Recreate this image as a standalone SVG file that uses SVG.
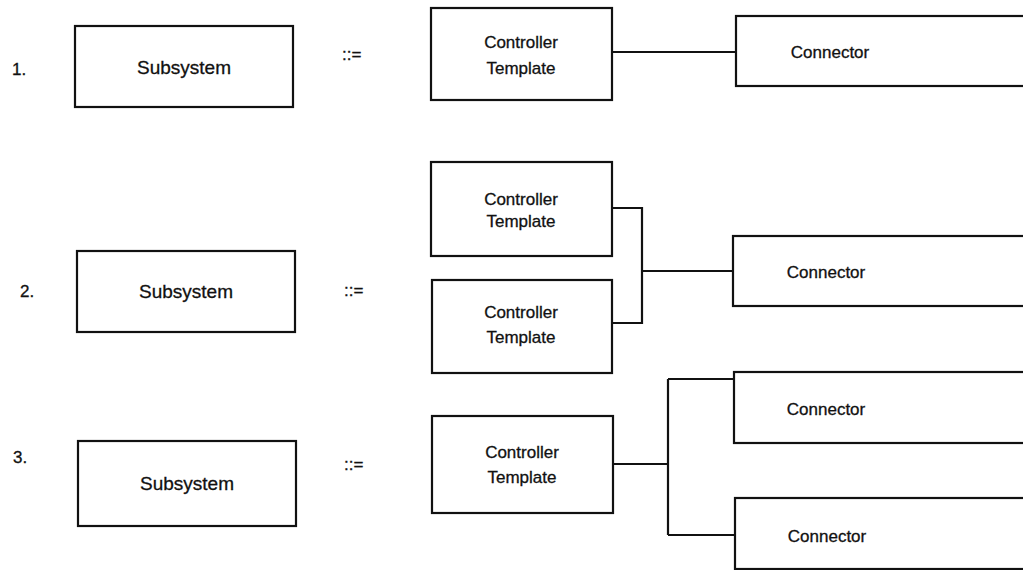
<svg xmlns="http://www.w3.org/2000/svg" width="1023" height="570" viewBox="0 0 1023 570">
  <style>
    .box { fill: #ffffff; stroke: #111111; stroke-width: 2.2; }
    .wire { fill: none; stroke: #111111; stroke-width: 2.2; }
    text { font-family: "Liberation Sans", Arial, sans-serif; fill: #111111; stroke: #111111; stroke-width: 0.3; }
    .sub { font-size: 19px; text-anchor: middle; }
    .lbl { font-size: 17px; text-anchor: middle; }
    .num { font-size: 17px; }
    .def { font-size: 17px; }
  </style>
  <rect width="1023" height="570" fill="#ffffff"/>

  <!-- rule numbers and definition symbols -->
  <g id="rule-marks">
    <text class="num" x="12" y="75">1.</text>
    <text class="num" x="20" y="297">2.</text>
    <text class="num" x="13" y="463">3.</text>
    <text class="def" x="342" y="60">::=</text>
    <text class="def" x="344" y="296" font-size="15">::=</text>
    <text class="def" x="344" y="470">::=</text>
  </g>

  <!-- connectors -->
  <g id="connectors">
    <path class="wire" d="M612 52 H736"/>
    <path class="wire" d="M612 208 H642 V323 H612 M642 271 H733"/>
    <path class="wire" d="M613 464 H668 M668 379 V535 M668 379 H734 M668 535 H735"/>
  </g>

  <!-- rule 1 -->
  <g id="subsystem-1">
    <rect class="box" x="75" y="26" width="218" height="81"/>
    <text class="sub" x="184" y="74">Subsystem</text>
  </g>
  <g id="controller-template-1">
    <rect class="box" x="431" y="8" width="181" height="92"/>
    <text class="lbl" x="521" y="48">Controller</text>
    <text class="lbl" x="521" y="74">Template</text>
  </g>
  <g id="connector-1">
    <rect class="box" x="736" y="16" width="300" height="70"/>
    <text class="lbl" x="830" y="58">Connector</text>
  </g>

  <!-- rule 2 -->
  <g id="subsystem-2">
    <rect class="box" x="77" y="251" width="218" height="81"/>
    <text class="sub" x="186" y="298">Subsystem</text>
  </g>
  <g id="controller-template-2a">
    <rect class="box" x="431" y="162" width="181" height="94"/>
    <text class="lbl" x="521" y="205">Controller</text>
    <text class="lbl" x="521" y="227">Template</text>
  </g>
  <g id="controller-template-2b">
    <rect class="box" x="432" y="280" width="180" height="93"/>
    <text class="lbl" x="521" y="318">Controller</text>
    <text class="lbl" x="521" y="343">Template</text>
  </g>
  <g id="connector-2">
    <rect class="box" x="733" y="236" width="300" height="70"/>
    <text class="lbl" x="826" y="278">Connector</text>
  </g>

  <!-- rule 3 -->
  <g id="subsystem-3">
    <rect class="box" x="78" y="441" width="218" height="85"/>
    <text class="sub" x="187" y="490">Subsystem</text>
  </g>
  <g id="controller-template-3">
    <rect class="box" x="432" y="416" width="181" height="97"/>
    <text class="lbl" x="522" y="458">Controller</text>
    <text class="lbl" x="522" y="483">Template</text>
  </g>
  <g id="connector-3a">
    <rect class="box" x="734" y="372" width="300" height="71"/>
    <text class="lbl" x="826" y="415">Connector</text>
  </g>
  <g id="connector-3b">
    <rect class="box" x="735" y="498" width="300" height="71"/>
    <text class="lbl" x="827" y="542">Connector</text>
  </g>
</svg>
